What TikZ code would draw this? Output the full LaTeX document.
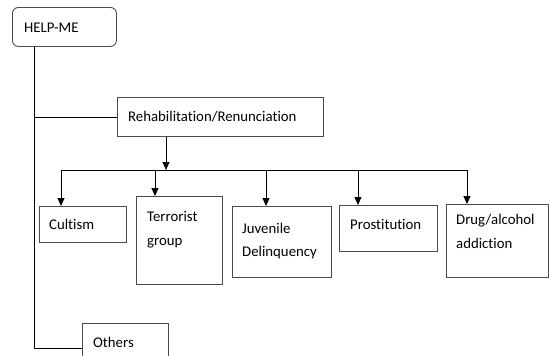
\documentclass[tikz,border=0pt]{standalone}
\usepackage{fontspec}
\setmainfont{Carlito}[Ligatures={NoCommon}]
\usetikzlibrary{arrows.meta}
\begin{document}
\begin{tikzpicture}[x=1pt,y=-1pt,
  box/.style={draw=black!70, line width=0.9pt, inner sep=0pt, anchor=north west},
  lbl/.style={anchor=base west, inner sep=0pt, font=\fontsize{14.8}{17}\selectfont},
  conn/.style={draw=black, line width=0.9pt},
  arr/.style={conn, -{Triangle[length=8pt,width=7pt]}}]
\useasboundingbox (0,0) rectangle (550,356);
\clip (0,0) rectangle (550,356);
\fill[white] (0,0) rectangle (550,356);
% boxes
\node[box, rounded corners=6pt, minimum width=104pt, minimum height=39pt] (help) at (12,7) {};
\node[box, minimum width=206pt, minimum height=39pt] (reh) at (117,97) {};
\node[box, minimum width=87pt, minimum height=36pt] (cult) at (39,206) {};
\node[box, minimum width=86pt, minimum height=88pt] (terr) at (136,196) {};
\node[box, minimum width=99pt, minimum height=71pt] (juv) at (232,206) {};
\node[box, minimum width=98pt, minimum height=46pt] (pros) at (339,205) {};
\node[box, minimum width=102pt, minimum height=73pt] (drug) at (446,204) {};
\node[box, minimum width=86pt, minimum height=50pt] (oth) at (82,323) {};
% texts
\node[lbl] (thelp) at (24,32) {HELP-ME};
\node[lbl] (treh) at (128,121) {Rehabilitation/Renunciation};
\node[lbl] (tcult) at (49,229) {Cultism};
\node[lbl] (tterr1) at (147,221) {Terrorist};
\node[lbl] (tterr2) at (147,245) {group};
\node[lbl] (tjuv1) at (242,233) {Juvenile};
\node[lbl] (tjuv2) at (242,256) {Delinquency};
\node[lbl] (tpros) at (350,229) {Prostitution};
\node[lbl] (tdrug1) at (456,224) {Drug/alcohol};
\node[lbl] (tdrug2) at (456,248) {addiction};
\node[lbl] (toth) at (93,347) {Others};
% connectors
\coordinate (trunk) at (34,0);
\coordinate (busL) at (61,170);
\coordinate (busR) at (467,170);
\coordinate (rehx) at (166,0);
\draw[conn] (trunk |- help.south) -- (trunk |- oth.west) -- (oth.west);
\draw[conn] (trunk |- reh.west) -- (reh.west);
\draw[conn] (busL) -- (busR);
\draw[arr] (rehx |- reh.south) -- (rehx |- busL);
\draw[arr] (busL) -- (busL |- cult.north);
\draw[arr] (155,170) -- (155,0 |- terr.north);
\draw[arr] (266,170) -- (266,0 |- juv.north);
\draw[arr] (358,170) -- (358,0 |- pros.north);
\draw[arr] (busR) -- (busR |- drug.north);
\end{tikzpicture}
\end{document}
